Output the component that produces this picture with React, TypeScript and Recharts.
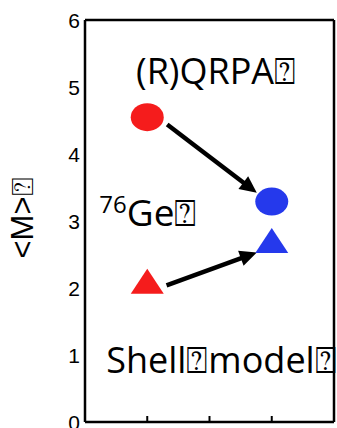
import React from 'react';
import {
  ScatterChart,
  Scatter,
  XAxis,
  YAxis,
  ReferenceLine,
  ReferenceDot
} from 'recharts';

// matrix element values for 76Ge
const RQRPA_OLD = [{ x: 1, y: 4.55 }];
const RQRPA_NEW = [{ x: 3, y: 3.29 }];
const SHELL_OLD = [{ x: 1, y: 2.1 }];
const SHELL_NEW = [{ x: 3, y: 2.71 }];

// arrows: [start, tip]
const ARROW_RQRPA = [{ x: 1.32, y: 4.44 }, { x: 2.76, y: 3.42 }];
const ARROW_SHELL = [{ x: 1.31, y: 2.04 }, { x: 2.76, y: 2.53 }];

const Y_TICKS = [0, 1, 2, 3, 4, 5, 6];
const Y_MINOR = [0.5, 1, 1.5, 2, 2.5, 3, 3.5, 4, 4.5, 5, 5.5];
const X_TICKS = [1, 2, 3];

const RED = '#f51c1c';
const BLUE = '#2539ec';
const TEXT_FONT = '"Open Sans", sans-serif';
const TICK_FONT = '"Liberation Sans", Arial, sans-serif';
const FRAME = { stroke: '#000', strokeWidth: 2.5 };
const TICK_LINE = { stroke: '#000', strokeWidth: 2 };

const blank = () => '';

const Ellipse = (color: string) => (props: any) => (
  <ellipse cx={props.cx} cy={props.cy} rx={16.5} ry={14} fill={color} />
);

const Triangle = (color: string) => (props: any) => {
  const { cx, cy } = props;
  const pts = `${cx - 16.5},${cy + 12.5} ${cx + 16.5},${cy + 12.5} ${cx},${cy - 12.5}`;
  return <polygon points={pts} fill={color} />;
};

const Arrow = (props: any) => {
  const { x1, y1, x2, y2 } = props;
  const dx = x2 - x1;
  const dy = y2 - y1;
  const len = Math.sqrt(dx * dx + dy * dy);
  const ux = dx / len;
  const uy = dy / len;
  const head = 17;
  const half = 8;
  const bx = x2 - ux * head;
  const by = y2 - uy * head;
  const pts = `${x2},${y2} ${bx - uy * half},${by + ux * half} ${bx + uy * half},${by - ux * half}`;
  return (
    <g>
      <line x1={x1} y1={y1} x2={bx + ux * 2} y2={by + uy * 2} stroke="#000" strokeWidth={4.5} />
      <polygon points={pts} fill="#000" />
    </g>
  );
};

const Label = (text: React.ReactNode, size: number) => (props: any) => (
  <text
    x={props.cx}
    y={props.cy}
    fontFamily={TEXT_FONT}
    fontSize={size}
    fill="#000"
    textAnchor="start"
  >
    {text}
  </text>
);

const YTick = (props: any) => (
  <text
    x={props.x}
    y={props.y}
    fontFamily={TICK_FONT}
    fontSize={21}
    fill="#000"
    textAnchor="end"
    dominantBaseline="central"
  >
    {props.payload.value}
  </text>
);

const YTitle = (props: any) => {
  const vb = props.viewBox;
  const cx = vb.x + 22;
  const cy = vb.y + vb.height / 2 - 3;
  return (
    <text
      transform={`translate(${cx},${cy}) rotate(-90)`}
      fontFamily={TICK_FONT}
      fontSize={31}
      fill="#000"
      textAnchor="middle"
      dominantBaseline="central"
    >
      {'<M>\u2370'}
    </text>
  );
};

export default function App() {
  return (
    <div style={{ position: 'absolute', left: 0, top: 0 }}>
      <ScatterChart width={337} height={428} margin={{ top: 20, right: 3, bottom: 6, left: 0 }}>
        <XAxis
          xAxisId="x"
          type="number"
          dataKey="x"
          domain={[0, 4]}
          ticks={X_TICKS}
          orientation="bottom"
          mirror
          height={1}
          tickFormatter={blank}
          tickSize={6}
          tickLine={TICK_LINE}
          axisLine={FRAME}
        />
        <XAxis
          xAxisId="top"
          type="number"
          domain={[0, 4]}
          ticks={X_TICKS}
          orientation="top"
          mirror
          height={1}
          tickFormatter={blank}
          tickSize={6}
          tickLine={TICK_LINE}
          axisLine={FRAME}
        />
        <YAxis
          yAxisId="y"
          type="number"
          dataKey="y"
          domain={[0, 6]}
          ticks={Y_TICKS}
          interval={0}
          orientation="left"
          width={85}
          tickLine={false}
          tickSize={4}
          tickMargin={1}
          tick={YTick}
          axisLine={FRAME}
          label={{ content: YTitle }}
        />
        <YAxis
          yAxisId="leftIn"
          type="number"
          domain={[0, 6]}
          ticks={Y_MINOR}
          interval={0}
          orientation="left"
          mirror
          width={1}
          tickFormatter={blank}
          tickSize={5}
          tickLine={TICK_LINE}
          axisLine={false}
        />
        <YAxis
          yAxisId="right"
          type="number"
          domain={[0, 6]}
          ticks={Y_MINOR}
          interval={0}
          orientation="right"
          mirror
          width={1}
          tickFormatter={blank}
          tickSize={5}
          tickLine={TICK_LINE}
          axisLine={FRAME}
        />

        <ReferenceLine
          xAxisId="x"
          yAxisId="y"
          segment={ARROW_RQRPA}
          shape={Arrow}
          ifOverflow="visible"
        />
        <ReferenceLine
          xAxisId="x"
          yAxisId="y"
          segment={ARROW_SHELL}
          shape={Arrow}
          ifOverflow="visible"
        />

        <Scatter xAxisId="x" yAxisId="y" data={RQRPA_OLD} shape={Ellipse(RED)} isAnimationActive={false} />
        <Scatter xAxisId="x" yAxisId="y" data={RQRPA_NEW} shape={Ellipse(BLUE)} isAnimationActive={false} />
        <Scatter xAxisId="x" yAxisId="y" data={SHELL_OLD} shape={Triangle(RED)} isAnimationActive={false} />
        <Scatter xAxisId="x" yAxisId="y" data={SHELL_NEW} shape={Triangle(BLUE)} isAnimationActive={false} />

        <ReferenceDot
          xAxisId="x"
          yAxisId="y"
          x={0.82}
          y={5.05}
          shape={Label('(R)QRPA\u2370', 36)}
        />
        <ReferenceDot
          xAxisId="x"
          yAxisId="y"
          x={0.23}
          y={2.93}
          shape={Label(
            <>
              <tspan fontSize={24} dy={-13}>76</tspan>
              <tspan dy={13}>{'Ge\u2370'}</tspan>
            </>,
            37
          )}
        />
        <ReferenceDot
          xAxisId="x"
          yAxisId="y"
          x={0.34}
          y={0.73}
          shape={Label('Shell\u2370model\u2370', 36)}
        />
      </ScatterChart>
    </div>
  );
}
